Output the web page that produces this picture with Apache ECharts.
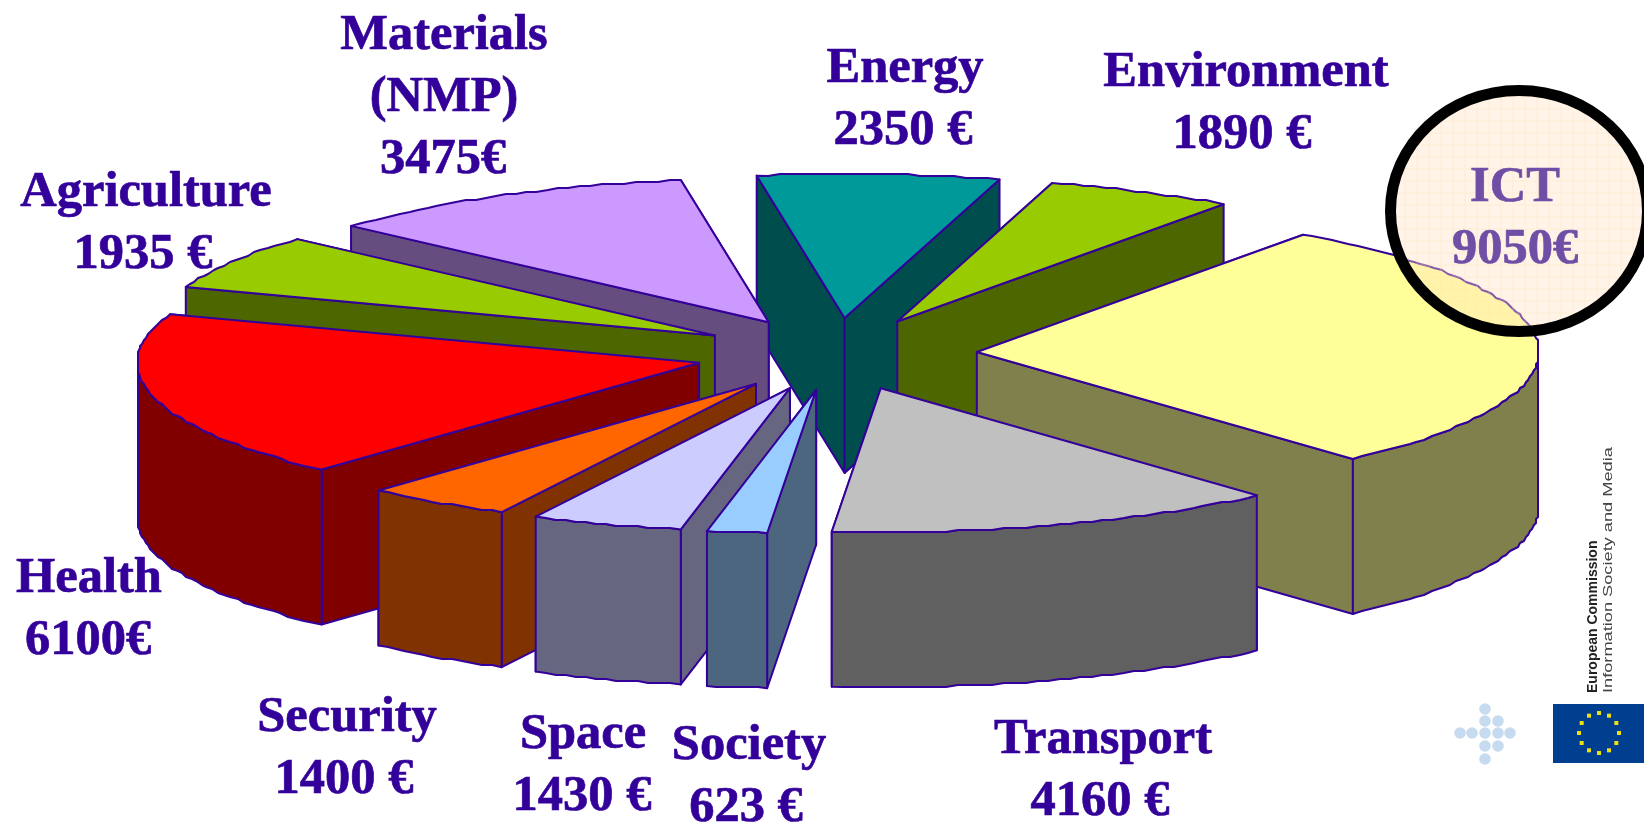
<!DOCTYPE html>
<html>
<head>
<meta charset="utf-8">
<style>
  html, body { margin: 0; padding: 0; background: #fff; }
  #chart { width: 1644px; height: 824px; }
</style>
<script src="https://cdn.jsdelivr.net/npm/echarts@6/dist/echarts.min.js"></script>
</head>
<body>
<div id="chart"></div>
<script>
// clockwise from ICT, budget in million euro as printed on the labels
const categories = ['ICT', 'Transport', 'Society', 'Space', 'Security', 'Health', 'Agriculture', 'Materials\n(NMP)', 'Energy', 'Environment']
const values = [9050, 4160, 623, 1430, 1400, 6100, 1935, 3475, 2350, 1890]
const valueSuffix = ['€', ' €', ' €', ' €', ' €', '€', ' €', '€', ' €', ' €']
// slice sizes as drawn in the picture, in degrees (close to the labels, not exact)
const sliceDegrees = [102.5, 47, 6.2, 15.7, 15.3, 67.5, 22.3, 39, 25, 19.5]

const topColors = ['#ffff99', '#c0c0c0', '#99ccff', '#ccccff', '#ff6600', '#ff0000', '#99cc00', '#cc99ff', '#009999', '#99cc00']
const sideColors = ['#80804d', '#606060', '#4d6680', '#666680', '#803300', '#800000', '#4d6600', '#664d80', '#004d4d', '#4d6600']
const labelPos = [[1515, 219], [1103, 771], [749, 777], [583, 766], [347, 749], [89, 610], [146, 224], [444, 98], [905, 100], [1246, 104]]
const valueShift = [0, -3, -3, -1, -3, -1, -3, -1, -2, -4]

const lineColor = '#330099'
const textColor = '#330099'

// pie geometry
const cx = 836
const cy = 354
const rx = 562
const ry = 144
const depth = 155
const explode = 0.251
const startAngle = 54.5
const lineGap = 62

const toRad = (d) => (d * Math.PI) / 180

let acc = startAngle
const slices = sliceDegrees.map((deg, i) => {
  const from = acc
  const to = acc - deg
  acc = to
  const mid = toRad((from + to) / 2)
  return {
    i,
    from,
    to,
    ox: cx + rx * explode * Math.cos(mid),
    oy: cy - ry * explode * Math.sin(mid)
  }
})

// far slices are painted first
const paintOrder = slices.slice().sort((a, b) => a.oy - b.oy)

const snap = (v) => Math.round(v / 2) * 2

function rimPoints(s, a0, a1) {
  const pts = []
  const n = Math.max(2, Math.ceil(Math.abs(a1 - a0) / 1.2))
  for (let k = 0; k <= n; k++) {
    const a = toRad(a0 + ((a1 - a0) * k) / n)
    let x = s.ox + rx * Math.cos(a)
    let y = s.oy - ry * Math.sin(a)
    if (k > 0 && k < n) {
      x = snap(x)
      y = snap(y)
    }
    pts.push([x, y])
  }
  return pts
}

const poly = (points, fill, z2) => ({
  type: 'polygon',
  z2,
  shape: { points },
  style: { fill, stroke: lineColor, lineWidth: 2, lineJoin: 'round' }
})

function renderSlice(params) {
  const s = paintOrder[params.dataIndex]
  const side = sideColors[s.i]
  const rim = rimPoints(s, s.from, s.to)
  const apex = [s.ox, s.oy]
  const first = rim[0]
  const last = rim[rim.length - 1]
  const down = (p) => [p[0], p[1] + depth]
  const children = []

  const walls = [first, last].sort((a, b) => a[1] - b[1])
  walls.forEach((p, k) => {
    children.push(poly([apex, p, down(p), down(apex)], side, k + 1))
  })

  // only the part of the rim on the near side of the ellipse is visible
  const near = rim.filter((p, k) => {
    const a = s.from + ((s.to - s.from) * k) / (rim.length - 1)
    return Math.sin(toRad(a)) <= 0.02
  })
  if (near.length > 1) {
    children.push(poly(near.concat(near.slice().reverse().map(down)), side, 3))
  }
  children.push(poly([apex].concat(rim), topColors[s.i], 4))

  return { type: 'group', children }
}

// faint woven pattern of the highlight circle
function circlePattern() {
  const c = document.createElement('canvas')
  c.width = 12
  c.height = 12
  const g = c.getContext('2d')
  g.fillStyle = 'rgba(255,228,195,0.4)'
  g.fillRect(0, 0, 12, 12)
  g.fillStyle = 'rgba(255,222,175,0.18)'
  g.fillRect(0, 0, 12, 2)
  g.fillRect(0, 2, 2, 10)
  return c
}

const stars = []
for (let k = 0; k < 12; k++) {
  const a = toRad(k * 30)
  stars.push({
    type: 'rect',
    z: 20,
    shape: { x: 1599 + 20 * Math.cos(a) - 2, y: 733 + 20 * Math.sin(a) - 2, width: 4, height: 4 },
    style: { fill: '#f0e010' }
  })
}

const dotPos = [[1460, 733], [1472, 733], [1485, 733], [1498, 733], [1510, 733],
  [1485, 709], [1485, 721], [1485, 746], [1485, 759], [1498, 721], [1498, 746]]
const dots = dotPos.map((p) => ({
  type: 'circle',
  z: 20,
  shape: { cx: p[0], cy: p[1], r: 5.8 },
  style: { fill: '#c6daf0' }
}))

const labelText = (text, x, y, fill, z) => ({
  type: 'text',
  z,
  x,
  y,
  style: {
    text,
    fill,
    stroke: fill,
    lineWidth: 0.7,
    font: 'bold 50.5px "Liberation Serif"',
    lineHeight: lineGap,
    align: 'center',
    verticalAlign: 'middle'
  }
})

const labels = []
slices.forEach((s) => {
  const fill = s.i === 0 ? '#6f4fa6' : textColor
  const z = s.i === 0 ? 30 : 20
  const [x, y] = labelPos[s.i]
  const nameRows = categories[s.i].split('\n').length
  labels.push(labelText(categories[s.i], x, y - (lineGap * (nameRows + 1)) / 2 + (lineGap * nameRows) / 2, fill, z))
  labels.push(labelText(values[s.i] + valueSuffix[s.i], x + valueShift[s.i], y + (lineGap * nameRows) / 2, fill, z))
})

const sideText = (text, x, font, fill, scale) => ({
  type: 'text',
  z: 20,
  x,
  y: 693,
  rotation: Math.PI / 2,
  scaleX: scale,
  style: { text, fill, font, align: 'left', verticalAlign: 'middle' }
})

const myChart = echarts.init(document.getElementById('chart'), null, { renderer: 'canvas' })
myChart.setOption({
  animation: false,
  backgroundColor: '#fff',
  series: [
    {
      type: 'custom',
      coordinateSystem: 'none',
      silent: true,
      data: paintOrder.map((s) => values[s.i]),
      renderItem: renderSlice
    }
  ],
  graphic: {
    elements: [
      {
        type: 'ellipse',
        z: 25,
        shape: { cx: 1519, cy: 211, rx: 128.5, ry: 120.5 },
        style: { fill: { image: circlePattern(), repeat: 'repeat' }, stroke: '#000', lineWidth: 11 }
      },
      {
        type: 'rect',
        z: 20,
        shape: { x: 1553, y: 704, width: 91, height: 59 },
        style: { fill: '#003f8f' }
      },
      sideText('European Commission', 1593, 'bold 14px "Liberation Sans"', '#222', 1),
      sideText('Information Society and Media', 1608, '13px "Liberation Sans"', '#444', 1.4)
    ].concat(stars, dots, labels)
  }
})
</script>
</body>
</html>
